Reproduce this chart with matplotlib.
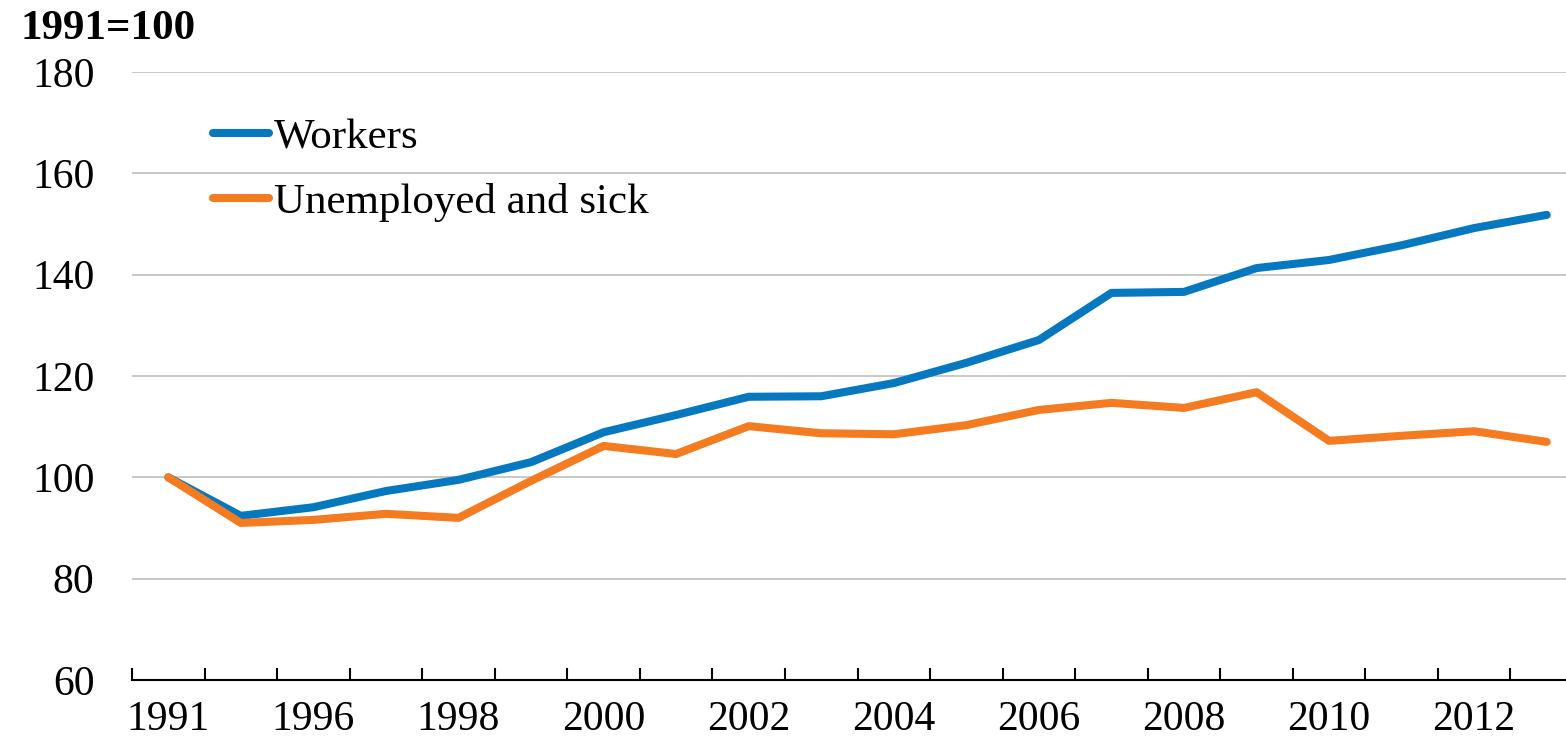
import numpy as np
import matplotlib
matplotlib.use('Agg')
from matplotlib import pyplot as plt

plt.rcParams['font.family'] = ['Liberation Serif', 'DejaVu Serif']

# data (1991=100)
years = ['1991', '1995', '1996', '1997', '1998', '1999', '2000', '2001', '2002', '2003',
         '2004', '2005', '2006', '2007', '2008', '2009', '2010', '2011', '2012', '2013']
workers = [100, 92.4, 94.1, 97.3, 99.5, 103.0, 108.9, 112.3, 115.9, 116.0,
           118.6, 122.6, 127.1, 136.4, 136.6, 141.3, 142.9, 145.8, 149.2, 151.8]
unemployed = [100, 91.0, 91.6, 92.8, 92.0, 99.3, 106.2, 104.6, 110.1, 108.7,
              108.5, 110.3, 113.3, 114.7, 113.7, 116.8, 107.2, 108.2, 109.1, 107.0]

W, H = 1566, 738
fig = plt.figure(figsize=(W/100, H/100), dpi=100)
# axes runs off the right edge like in the original
ax = fig.add_axes([132/W, 1-680/H, (1583-132)/W, 608/H])

x = np.arange(len(years))
ax.plot(x, workers, color='#0678c0', lw=5.8, label='Workers', solid_capstyle='round')
ax.plot(x, unemployed, color='#f47b20', lw=5.8, label='Unemployed and sick', solid_capstyle='round')

ax.set_xlim(-0.5, len(years)-0.5)
ax.set_ylim(60, 180)
ax.set_yticks(np.arange(60, 181, 20))
ax.yaxis.grid(True, color='#c8c8c8', lw=1.4)
ax.set_axisbelow(True)
for s in ['top', 'right', 'left']:
    ax.spines[s].set_visible(False)
ax.spines['bottom'].set_linewidth(1.5)
ax.spines['bottom'].set_zorder(3)

ax.set_xticks(np.arange(-0.5, len(years), 1), minor=False)
ax.set_xticklabels([])
ax.set_xticks(x[::2], minor=True)
ax.set_xticklabels(years[::2], minor=True)
ax.tick_params(axis='x', which='major', direction='in', length=9, width=1.5)
ax.tick_params(axis='x', which='minor', length=0, pad=15, labelsize=30)
ax.tick_params(axis='y', length=0, pad=27, labelsize=30)

fig.text(20/W, 1-39/H, '1991=100', fontsize=31, fontweight='bold', va='baseline')

ax.legend(loc='center left', bbox_to_anchor=(213/W, 1-170/H), bbox_transform=fig.transFigure,
          frameon=False, fontsize=31, handlelength=1.3, handletextpad=0.12,
          borderpad=0, borderaxespad=0, labelspacing=0.6)

fig.savefig('out.png', dpi=100)
